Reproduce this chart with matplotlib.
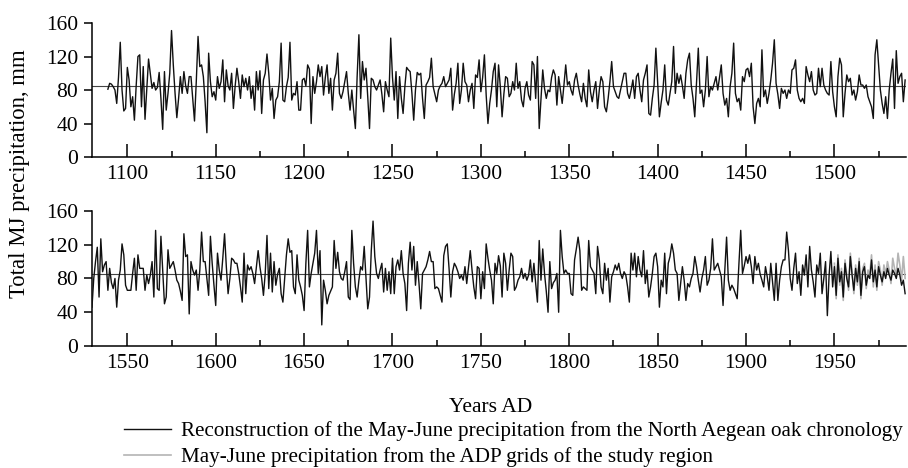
import numpy as np
import matplotlib
matplotlib.use('Agg')
import matplotlib.pyplot as plt
from matplotlib.ticker import MultipleLocator
from matplotlib.lines import Line2D

plt.rcParams['font.family'] = 'Liberation Serif'

# May-June precipitation (mm) reconstructed from the oak chronology, one value per year
recon_first_year = 1089
recon = [
    81,                                                  # 1089
    88, 87, 84, 80, 64, 95, 137, 80, 55, 58,             # 1090s
    107, 92, 60, 72, 44, 85, 120, 122, 60, 108,          # 1100s
    45, 80, 117, 100, 82, 89, 80, 83, 101, 70,           # 1110s
    33, 102, 56, 76, 100, 151, 110, 76, 47, 70,          # 1120s
    96, 76, 102, 85, 76, 96, 96, 70, 43, 90,             # 1130s
    144, 108, 110, 96, 66, 29, 124, 90, 72, 78,          # 1140s
    68, 96, 82, 90, 116, 66, 104, 85, 80, 100,           # 1150s
    58, 85, 106, 90, 70, 98, 84, 94, 80, 96,             # 1160s
    70, 85, 56, 102, 80, 103, 52, 92, 100, 123,          # 1170s
    100, 68, 82, 46, 68, 72, 90, 136, 68, 66,            # 1180s
    84, 95, 137, 68, 76, 74, 90, 56, 56, 92,             # 1190s
    94, 85, 110, 105, 40, 96, 76, 90, 110, 96,           # 1200s
    108, 74, 95, 110, 76, 94, 56, 92, 100, 124,          # 1210s
    76, 70, 78, 90, 102, 76, 56, 80, 56, 34,             # 1220s
    96, 146, 70, 114, 92, 106, 72, 34, 94, 92,           # 1230s
    84, 80, 86, 92, 75, 54, 90, 80, 72, 142,             # 1240s
    95, 68, 102, 46, 96, 70, 52, 84, 107, 104,           # 1250s
    102, 76, 44, 80, 101, 98, 100, 70, 46, 86,           # 1260s
    90, 95, 118, 84, 75, 66, 80, 85, 88, 96,             # 1270s
    84, 88, 92, 106, 56, 75, 88, 112, 64, 80,            # 1280s
    112, 90, 86, 66, 80, 88, 58, 98, 95, 116,            # 1290s
    78, 95, 122, 74, 40, 64, 80, 102, 112, 60,           # 1300s
    110, 84, 48, 75, 96, 94, 72, 76, 90, 80,             # 1310s
    112, 82, 90, 68, 60, 82, 90, 74, 68, 114,            # 1320s
    110, 70, 120, 34, 68, 104, 82, 70, 80, 78,           # 1330s
    95, 104, 98, 62, 96, 80, 64, 86, 110, 86,            # 1340s
    90, 80, 74, 92, 100, 86, 75, 66, 88, 70,             # 1350s
    60, 104, 78, 66, 80, 90, 58, 80, 96, 90,             # 1360s
    60, 54, 70, 90, 114, 84, 78, 72, 70, 80,             # 1370s
    90, 100, 100, 76, 70, 80, 92, 70, 96, 100,           # 1380s
    80, 66, 92, 100, 110, 52, 50, 70, 86, 130,           # 1390s
    90, 48, 65, 80, 110, 68, 62, 76, 90, 132,            # 1400s
    76, 100, 88, 98, 85, 70, 100, 116, 124, 86,          # 1410s
    70, 48, 88, 130, 76, 80, 60, 80, 120, 72,            # 1420s
    84, 80, 88, 96, 80, 95, 110, 76, 62, 70,             # 1430s
    48, 84, 100, 136, 76, 66, 70, 56, 96, 90,            # 1440s
    104, 106, 96, 112, 60, 40, 64, 70, 60, 128,          # 1450s
    72, 80, 64, 76, 92, 112, 140, 88, 75, 58,            # 1460s
    82, 76, 80, 70, 80, 76, 104, 106, 116, 80,           # 1470s
    70, 66, 70, 64, 108, 98, 90, 102, 80, 74,            # 1480s
    76, 106, 84, 106, 86, 80, 76, 74, 114, 78,           # 1490s
    60, 48, 96, 118, 110, 48, 76, 98, 90, 94,            # 1500s
    74, 80, 68, 78, 98, 86, 86, 82, 86, 72,              # 1510s
    66, 60, 46, 122, 140, 110, 80, 64, 52, 72,           # 1520s
    46, 80, 100, 117, 58, 127, 88, 96, 100, 66,          # 1530s
    92, 75, 68, 80, 46, 78, 90, 121, 108, 72,            # 1540s
    66, 66, 66, 86, 104, 66, 108, 92, 92, 92,            # 1550s
    66, 84, 74, 84, 100, 58, 137, 68, 66, 130,           # 1560s
    90, 50, 58, 114, 92, 96, 100, 90, 78, 74,            # 1570s
    65, 54, 133, 106, 108, 38, 100, 90, 84, 90,          # 1580s
    66, 90, 135, 100, 100, 80, 60, 130, 98, 72,          # 1590s
    48, 110, 90, 78, 104, 133, 94, 62, 80, 104,          # 1600s
    102, 98, 98, 86, 70, 52, 110, 62, 96, 90,            # 1610s
    94, 86, 74, 94, 113, 94, 80, 60, 86, 131,            # 1620s
    68, 110, 64, 100, 72, 85, 92, 62, 52, 80,            # 1630s
    108, 127, 111, 113, 70, 62, 108, 78, 70, 60,         # 1640s
    42, 98, 137, 70, 86, 98, 110, 137, 86, 113,          # 1650s
    25, 78, 66, 50, 60, 65, 70, 125, 92, 111,            # 1660s
    88, 80, 78, 88, 100, 58, 55, 137, 98, 70,            # 1670s
    58, 78, 94, 90, 118, 82, 44, 58, 113, 148,           # 1680s
    106, 86, 80, 90, 98, 64, 92, 66, 88, 62,             # 1690s
    104, 62, 94, 102, 90, 113, 86, 74, 42, 98,           # 1700s
    123, 90, 118, 72, 100, 74, 44, 86, 90, 94,           # 1710s
    102, 112, 100, 100, 68, 70, 68, 60, 52, 107,         # 1720s
    118, 121, 92, 58, 88, 98, 94, 88, 80, 84,            # 1730s
    78, 94, 74, 94, 113, 90, 70, 56, 94, 92,             # 1740s
    56, 88, 68, 121, 104, 90, 78, 50, 98, 86,            # 1750s
    107, 95, 58, 110, 98, 66, 90, 110, 106, 66,          # 1760s
    70, 78, 82, 92, 80, 86, 78, 84, 102, 76,             # 1770s
    98, 74, 52, 125, 78, 115, 86, 65, 40, 100,           # 1780s
    68, 75, 78, 86, 40, 137, 106, 86, 90, 86,            # 1790s
    86, 62, 60, 102, 115, 129, 113, 66, 70, 68,          # 1800s
    66, 125, 94, 90, 86, 62, 118, 102, 70, 62,           # 1810s
    98, 78, 92, 52, 82, 88, 96, 90, 98, 86,              # 1820s
    80, 88, 84, 70, 52, 110, 90, 110, 82, 106,           # 1830s
    90, 82, 113, 74, 90, 58, 70, 86, 106, 110,           # 1840s
    94, 46, 78, 70, 110, 62, 98, 106, 121, 110,          # 1850s
    90, 86, 54, 74, 94, 78, 54, 74, 70, 80,              # 1860s
    86, 106, 94, 78, 64, 80, 90, 106, 72, 78,            # 1870s
    92, 127, 90, 94, 98, 90, 82, 48, 90, 129,            # 1880s
    78, 66, 72, 68, 62, 56, 98, 137, 86, 95,             # 1890s
    106, 98, 108, 94, 74, 106, 90, 98, 85, 78,           # 1900s
    70, 94, 82, 66, 98, 76, 54, 98, 54, 78,              # 1910s
    94, 102, 102, 135, 113, 80, 66, 92, 110, 74,         # 1920s
    88, 60, 96, 84, 108, 70, 118, 90, 76, 58,            # 1930s
    96, 86, 110, 62, 80, 100, 36, 84, 112, 70,           # 1940s
    94, 60, 104, 76, 88, 58, 98, 80, 70, 106,            # 1950s
    84, 66, 92, 76, 100, 60, 88, 94, 72, 84,             # 1960s
    80, 102, 76, 90, 70, 94, 84, 76, 88, 80,             # 1970s
    92, 84, 78, 90, 86, 80, 92, 84, 72, 78,              # 1980s
    62,                                                  # 1990
]

# gridded (ADP) May-June precipitation for the study region
adp_first_year = 1950
adp = [
    98, 56, 108, 72, 92, 54, 102, 84, 66, 110,           # 1950s
    88, 62, 96, 72, 104, 56, 92, 98, 68, 90,             # 1960s
    84, 108, 70, 96, 66, 100, 90, 72, 96, 84,            # 1970s
    100, 90, 74, 104, 92, 84, 110, 96, 78, 106,          # 1980s
    80,                                                  # 1990
]

mean_mj = 85

recon_years = np.arange(recon_first_year, recon_first_year + len(recon))
adp_years = np.arange(adp_first_year, adp_first_year + len(adp))
recon = np.array(recon)
adp = np.array(adp)

fig = plt.figure(figsize=(9.08, 4.68), dpi=100)
ax_top = fig.add_axes([0.1013, 0.6645, 0.8965, 0.2863])
ax_bot = fig.add_axes([0.1013, 0.2607, 0.8965, 0.2885])

panels = [(ax_top, 1080, 1540.5), (ax_bot, 1530, 1990.5)]
fs = 15.5

for ax, x0, x1 in panels:
    m = (recon_years >= x0) & (recon_years <= x1)
    ax.axhline(mean_mj, color='#444444', linewidth=0.8, zorder=1)
    ma = (adp_years >= x0) & (adp_years <= x1)
    if ma.any():
        ax.plot(adp_years[ma], adp[ma], color='#b4b4b4', linewidth=1.2, zorder=2)
    ax.plot(recon_years[m], recon[m], color='#111111', linewidth=1.0, zorder=3)

    ax.set_xlim(x0, x1)
    ax.set_ylim(0, 160)
    ax.set_yticks([0, 40, 80, 120, 160])
    ax.xaxis.set_major_locator(MultipleLocator(50))
    ax.xaxis.set_minor_locator(MultipleLocator(25))
    for s in ['top', 'right']:
        ax.spines[s].set_visible(False)
    for s in ['left', 'bottom']:
        ax.spines[s].set_linewidth(1.1)
    ax.tick_params(axis='x', which='major', direction='in', length=9.5, width=1.1,
                   pad=6, labelsize=fs)
    ax.tick_params(axis='x', which='minor', direction='in', length=4.5, width=1.1)
    ax.tick_params(axis='y', which='major', direction='out', length=6, width=1.1,
                   pad=4, labelsize=fs)

fig.text(0.022, 0.63, 'Total MJ precipitation, mm', rotation=90,
         ha='center', va='center', fontsize=16.4)
fig.text(0.54, 0.13, 'Years AD', ha='center', va='center', fontsize=fs)

handles = [Line2D([], [], color='#111111', linewidth=1.0),
           Line2D([], [], color='#b4b4b4', linewidth=1.2)]
labels = ['Reconstruction of the May-June precipitation from the North Aegean oak chronology',
          'May-June precipitation from the ADP grids of the study region']
fig.legend(handles, labels, loc='upper left', bbox_to_anchor=(0.137, 0.1),
           frameon=False, fontsize=15.2, handlelength=2.2, handletextpad=0.5,
           labelspacing=0.28, borderpad=0, borderaxespad=0)

plt.savefig('out.png', dpi=100)
